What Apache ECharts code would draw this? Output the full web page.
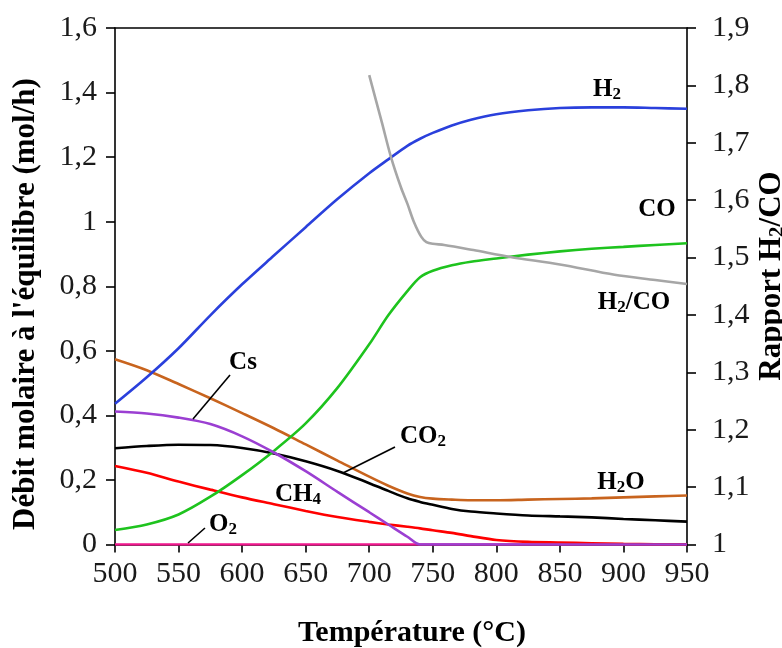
<!DOCTYPE html>
<html>
<head>
<meta charset="utf-8">
<script src="https://cdn.jsdelivr.net/npm/echarts@6/dist/echarts.min.js"></script>
<style>html,body{margin:0;padding:0;background:#fff}#c{width:782px;height:648px}</style>
</head>
<body>
<div id="c"></div>
<script>
// Temperatures (°C)
const temps = [500,525,550,575,600,625,650,675,700,715,730,740,750,765,780,800,825,850,875,900,925,950];
// Molar flows (mol/h)
const h2  = [0.436,0.518,0.608,0.710,0.806,0.895,0.983,1.070,1.150,1.193,1.235,1.257,1.275,1.298,1.316,1.333,1.345,1.352,1.354,1.354,1.352,1.350];
const co  = [0.045,0.062,0.093,0.148,0.215,0.290,0.375,0.485,0.620,0.710,0.785,0.828,0.848,0.865,0.876,0.886,0.898,0.908,0.916,0.922,0.928,0.933];
const cs  = [0.412,0.406,0.393,0.373,0.335,0.285,0.227,0.163,0.100,0.062,0.024,0.000,0,0,0,0,0,0,0,0,0,0];
const co2 = [0.298,0.305,0.309,0.308,0.299,0.282,0.258,0.228,0.190,0.166,0.143,0.132,0.123,0.110,0.102,0.096,0.090,0.087,0.084,0.079,0.075,0.071];
const h2o = [0.574,0.540,0.497,0.453,0.407,0.360,0.310,0.260,0.210,0.182,0.158,0.147,0.142,0.139,0.137,0.137,0.139,0.141,0.143,0.146,0.149,0.152];
const ch4 = [0.243,0.222,0.195,0.170,0.146,0.125,0.104,0.085,0.070,0.062,0.055,0.050,0.044,0.036,0.026,0.014,0.008,0.006,0.004,0.002,0.001,0.001];
const o2  = [0,0,0,0,0,0,0,0,0,0,0,0,0,0,0,0,0,0,0,0,0,0];
// H2/CO ratio (right axis)
const ratioTemps = [700,710,717,725,730,735,741,745,750,759,782,811,850,893,925,950];
const ratio      = [1.818,1.735,1.676,1.622,1.594,1.563,1.536,1.527,1.524,1.522,1.513,1.501,1.488,1.470,1.461,1.454];
// Axis ticks
const xTicks = {min:500, max:950, step:50};
const yLeft  = {min:0, max:1.6, step:0.2};
const yRight = {min:1, max:1.9, step:0.1};

const pair = (xs, ys) => xs.map((x,i)=>[x, ys[i]]);
const serif = 'Liberation Serif';
const fmt = v => String(+(+v).toFixed(1)).replace('.', ',');

const mk = (name, ys, color, xs, yIdx) => ({
  name, type:'line', data: pair(xs||temps, ys), yAxisIndex: yIdx||0,
  showSymbol:false, smooth:0.3,
  lineStyle:{color, width:2.6}, itemStyle:{color}, z:2
});

const chart = echarts.init(document.getElementById('c'), null, {renderer:'canvas'});
const axisLine = {lineStyle:{color:'#000', width:1.6}};
const mkRich = (fs, ss, pad) => ({
  b:{fontFamily:serif, fontWeight:'bold', fontSize:fs, lineHeight:fs+1, verticalAlign:'top', color:'#000'},
  s:{fontFamily:serif, fontWeight:'bold', fontSize:ss, lineHeight:ss, verticalAlign:'bottom', padding:[pad,0,0,0], color:'#000'}
});
const rich = mkRich(25, 17, 13);
const lbl = (x, y, text) => ({
  type:'text', x, y, z:10,
  style:{text, rich, textAlign:'center', textVerticalAlign:'middle', fill:'#000'}
});
const lead = (x1,y1,x2,y2) => ({type:'line', z:10, shape:{x1,y1,x2,y2}, style:{stroke:'#000', lineWidth:1.6}});
const tickFont = {fontFamily:serif, fontSize:30, color:'#1a1a1a'};

chart.setOption({
  animation:false,
  backgroundColor:'#fff',
  grid:{left:115, right:95, top:28, bottom:103.5, containLabel:false},
  xAxis:[{
    type:'value', min:xTicks.min, max:xTicks.max, interval:xTicks.step,
    axisLine, axisTick:{show:true, length:8, lineStyle:{color:'#000', width:1.6}},
    axisLabel:Object.assign({margin:15}, tickFont),
    splitLine:{show:false}
  },{
    type:'value', position:'top', min:xTicks.min, max:xTicks.max,
    axisLine:{show:true, onZero:false, lineStyle:{color:'#000', width:1.6}},
    axisTick:{show:false}, axisLabel:{show:false}, splitLine:{show:false}
  }],
  yAxis:[{
    type:'value', position:'left', min:yLeft.min, max:yLeft.max, interval:yLeft.step,
    axisLine:{show:true, lineStyle:{color:'#000', width:1.6}},
    axisTick:{show:true, length:9, lineStyle:{color:'#000', width:1.6}},
    axisLabel:Object.assign({margin:18, formatter:fmt}, tickFont),
    splitLine:{show:false}
  },{
    type:'value', position:'right', min:yRight.min, max:yRight.max, interval:yRight.step,
    axisLine:{show:true, lineStyle:{color:'#000', width:1.6}},
    axisTick:{show:true, length:9, lineStyle:{color:'#000', width:1.6}},
    axisLabel:Object.assign({margin:25, formatter:fmt}, tickFont),
    splitLine:{show:false}
  }],
  series:[
    mk('O2', o2, '#f0168c'),
    mk('CH4', ch4, '#ff0000'),
    mk('H2O', h2o, '#c8641e'),
    mk('CO2', co2, '#000000'),
    mk('CO', co, '#1ec31e'),
    mk('H2', h2, '#2a40dc'),
    mk('Cs', cs, '#9b3fd2'),
    mk('H2/CO', ratio, '#a6a6a6', ratioTemps, 1)
  ],
  graphic:[
    lbl(607, 90, '{b|H}{s|2}'),
    lbl(657, 210, '{b|CO}'),
    lbl(634, 303, '{b|H}{s|2}{b|/CO}'),
    lbl(621, 483, '{b|H}{s|2}{b|O}'),
    lbl(423, 437, '{b|CO}{s|2}'),
    lbl(298, 495, '{b|CH}{s|4}'),
    lbl(243, 363, '{b|Cs}'),
    lbl(223, 525, '{b|O}{s|2}'),
    lead(230,375,193,419),
    lead(395,447,343,473),
    lead(205,528,188,543),
    {type:'text', x:412, y:633, style:{text:'Température (°C)', font:'bold 30px "Liberation Serif"', fill:'#000', textAlign:'center', textVerticalAlign:'middle'}},
    {type:'text', x:26, y:304, rotation:Math.PI/2, style:{text:"Débit molaire à l'équilibre (mol/h)", font:'bold 31px "Liberation Serif"', fill:'#000', textAlign:'center', textVerticalAlign:'middle'}},
    {type:'text', x:772, y:276, rotation:Math.PI/2, style:{text:'{b|Rapport H}{s|2}{b|/CO}', rich:mkRich(31, 21, 16), textAlign:'center', textVerticalAlign:'middle', fill:'#000'}}
  ]
});
</script>
</body>
</html>
